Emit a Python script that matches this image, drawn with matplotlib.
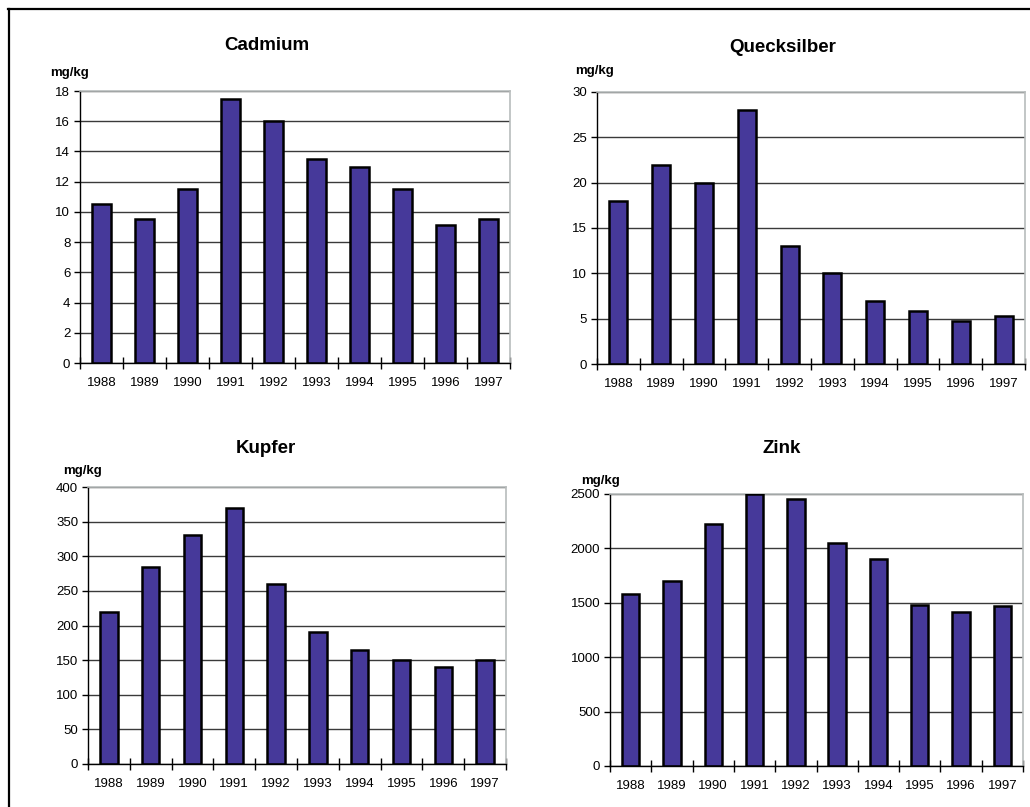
import numpy as np
import matplotlib
matplotlib.use("Agg")
import matplotlib.pyplot as plt
from matplotlib.lines import Line2D

plt.rcParams['font.family'] = ['Liberation Sans', 'DejaVu Sans']

years = ['1988', '1989', '1990', '1991', '1992', '1993', '1994', '1995', '1996', '1997']

cadmium = [10.5, 9.5, 11.5, 17.5, 16, 13.5, 13, 11.5, 9.1, 9.5]
quecksilber = [18, 22, 20, 28, 13, 10, 7, 5.8, 4.7, 5.3]
kupfer = [220, 284, 330, 370, 260, 190, 165, 150, 140, 150]
zink = [1580, 1700, 2220, 2500, 2450, 2050, 1900, 1480, 1415, 1470]

titles = ['Cadmium', 'Quecksilber', 'Kupfer', 'Zink']
y_max = [18, 30, 400, 2500]
y_step = [2, 5, 50, 500]

bar_color = '#46399A'

# axes rectangles in pixels: left, top, right, bottom
W, H = 1030, 807
boxes = [(80, 91, 510, 363), (597, 92, 1025, 364),
         (88, 487, 506, 764), (610, 494, 1023, 766)]
# title / unit positions in pixels
title_pos = [(267, 45), (783, 48), (266, 448), (782, 448)]
unit_pos = [(50, 73), (575, 71), (63, 471), (581, 481)]

fig = plt.figure(figsize=(W / 100, H / 100), dpi=100)
fig.patch.set_facecolor('white')

series = [cadmium, quecksilber, kupfer, zink]
x = np.arange(len(years))

for i, vals in enumerate(series):
    l, t, r, b = boxes[i]
    ax = fig.add_axes([l / W, 1 - b / H, (r - l) / W, (b - t) / H])
    ax.set_axisbelow(True)
    ax.bar(x, vals, width=0.42, color=bar_color, edgecolor='black', linewidth=1.8, zorder=3)

    ax.set_xlim(-0.5, len(years) - 0.5)
    ax.set_ylim(0, y_max[i])
    ax.set_yticks(np.arange(0, y_max[i] + y_step[i] / 2, y_step[i]))
    ax.yaxis.grid(True, color='#3a3a3a', linewidth=1.0)
    ax.tick_params(axis='y', direction='out', length=4, width=1, labelsize=9.5,
                   pad=3, colors='black')

    # category boundary ticks, labels at centers
    ax.set_xticks(np.arange(-0.5, len(years), 1.0))
    ax.set_xticklabels([])
    ax.set_xticks(x, minor=True)
    ax.set_xticklabels(years, minor=True)
    ax.tick_params(axis='x', which='major', direction='inout', length=8, width=1)
    ax.tick_params(axis='x', which='minor', length=0, labelsize=9.5, pad=10)

    for s in ['left', 'bottom']:
        ax.spines[s].set_color('black')
        ax.spines[s].set_linewidth(1.0)
    for s in ['top', 'right']:
        ax.spines[s].set_color('#b8bcbc')
        ax.spines[s].set_linewidth(1.2)
    ax.spines['bottom'].set_zorder(4)

    tx, ty = title_pos[i]
    fig.text(tx / W, 1 - ty / H, titles[i], ha='center', va='center',
             fontsize=13.5, fontweight='bold')
    ux, uy = unit_pos[i]
    fig.text(ux / W, 1 - uy / H, 'mg/kg', ha='left', va='center',
             fontsize=9.5, fontweight='bold')

# outer frame (top and left only visible)
fig.add_artist(Line2D([8 / W, 1], [1 - 8.5 / H, 1 - 8.5 / H], color='black', linewidth=1.6))
fig.add_artist(Line2D([8.5 / W, 8.5 / W], [0, 1 - 8.5 / H], color='black', linewidth=1.6))

fig.savefig('out.png', dpi=100)
